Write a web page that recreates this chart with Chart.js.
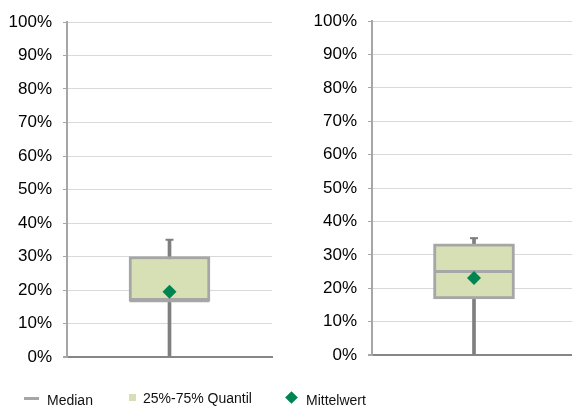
<!DOCTYPE html>
<html>
<head>
<meta charset="utf-8">
<script src="https://cdn.jsdelivr.net/npm/chart.js@4"></script>
<style>
    html, body { margin: 0; padding: 0; background: #fff; overflow: hidden; }
    body { width: 572px; height: 408px; position: relative; font-family: "Liberation Sans", Arial, sans-serif; }
    canvas { position: absolute; top: 0; }
    #leftChart { left: 0; }
    #rightChart { left: 300px; }
    .legend { position: absolute; top: 390px; left: 0; width: 572px; height: 18px; font-size: 14px; color: #111; }
    .legend span { position: absolute; top: 2px; white-space: nowrap; }
    .key { position: absolute; }
</style>
</head>
<body>
<canvas id="leftChart" width="285" height="408"></canvas>
<canvas id="rightChart" width="276" height="408"></canvas>
<div class="legend">
    <div class="key" style="left:24px; top:7px; width:15px; height:3px; background:#a6a6a6;"></div>
    <span style="left:47px;">Median</span>
    <div class="key" style="left:129px; top:4px; width:7px; height:7px; background:#d7dfb5;"></div>
    <span style="left:143px; top:0px;">25%-75% Quantil</span>
    <div class="key" style="left:287px; top:3px; width:9px; height:9px; background:#008552; transform:rotate(45deg);"></div>
    <span style="left:306px;">Mittelwert</span>
</div>
<script>
// values in percent
const categories = [''];
const yTicks = [0, 10, 20, 30, 40, 50, 60, 70, 80, 90, 100];

const leftMin = [0];
const leftQ1 = [16.8];
const leftMedian = [16.8];
const leftQ3 = [30];
const leftMax = [35];
const leftMean = [19.5];

const rightMin = [0];
const rightQ1 = [16.8];
const rightMedian = [25];
const rightQ3 = [33.3];
const rightMax = [35];
const rightMean = [23.1];

const boxFill = '#d7dfb5';
const boxLine = '#a6a6a6';
const whiskerColor = '#7f7f7f';
const meanColor = '#008552';

function buildBoxChart(canvasId, s, layout) {
    const ctx = document.getElementById(canvasId).getContext('2d');
    return new Chart(ctx, {
        data: {
            labels: categories,
            datasets: [
                {
                    // mean marker
                    type: 'line',
                    data: s.mean,
                    showLine: false,
                    clip: false,
                    pointStyle: 'rectRot',
                    pointRadius: 7,
                    pointBackgroundColor: meanColor,
                    pointBorderColor: meanColor,
                    pointBorderWidth: 0,
                    order: 1
                },
                {
                    // median line
                    type: 'line',
                    data: s.median,
                    showLine: false,
                    clip: false,
                    pointStyle: 'line',
                    pointRadius: 40,
                    pointBorderColor: boxLine,
                    pointBorderWidth: 3,
                    order: 2
                },
                {
                    // whisker cap
                    type: 'line',
                    data: s.max,
                    showLine: false,
                    clip: false,
                    pointStyle: 'line',
                    pointRadius: 4,
                    pointBorderColor: whiskerColor,
                    pointBorderWidth: 2,
                    order: 2
                },
                {
                    // 25%-75% box
                    type: 'bar',
                    data: s.q1.map((v, i) => [v, s.q3[i]]),
                    backgroundColor: boxFill,
                    borderColor: boxLine,
                    borderWidth: 3,
                    borderSkipped: false,
                    barThickness: 81,
                    grouped: false,
                    order: 3
                },
                {
                    // whisker
                    type: 'bar',
                    data: s.min.map((v, i) => [v, s.max[i]]),
                    backgroundColor: whiskerColor,
                    borderWidth: 0,
                    barThickness: 3,
                    grouped: false,
                    order: 4
                }
            ]
        },
        options: {
            responsive: false,
            animation: false,
            events: [],
            layout: {
                autoPadding: false,
                padding: { top: layout.top, bottom: layout.bottom, left: 0, right: layout.right }
            },
            plugins: { legend: { display: false }, tooltip: { enabled: false } },
            scales: {
                x: {
                    type: 'category',
                    offset: true,
                    grid: { display: false },
                    ticks: { display: false },
                    border: { display: true, color: '#868686', width: 2 },
                    afterFit: (scale) => { scale.height = 0; }
                },
                y: {
                    min: yTicks[0],
                    max: yTicks[yTicks.length - 1],
                    afterBuildTicks: (scale) => { scale.ticks = yTicks.map(v => ({ value: v })); },
                    ticks: {
                        padding: 11,
                        color: '#000',
                        font: { family: '"Liberation Sans", Arial, sans-serif', size: 17 },
                        callback: (val) => val + '%'
                    },
                    grid: {
                        color: (c) => c.tick && c.tick.value === 0 ? '#868686' : '#d9d9d9',
                        lineWidth: (c) => c.tick && c.tick.value === 0 ? 2 : 1,
                        tickColor: '#a6a6a6',
                        tickLength: 4
                    },
                    border: { display: true, color: '#a6a6a6', width: 2 },
                    afterFit: (scale) => { scale.width = layout.axis; }
                }
            }
        }
    });
}

// ---------- Left box plot ----------
buildBoxChart('leftChart', {
    min: leftMin, q1: leftQ1, median: leftMedian, q3: leftQ3, max: leftMax, mean: leftMean
}, { top: 22, bottom: 51, right: 13, axis: 67 });

// ---------- Right box plot ----------
buildBoxChart('rightChart', {
    min: rightMin, q1: rightQ1, median: rightMedian, q3: rightQ3, max: rightMax, mean: rightMean
}, { top: 20, bottom: 53, right: 0, axis: 72 });
</script>
</body>
</html>
